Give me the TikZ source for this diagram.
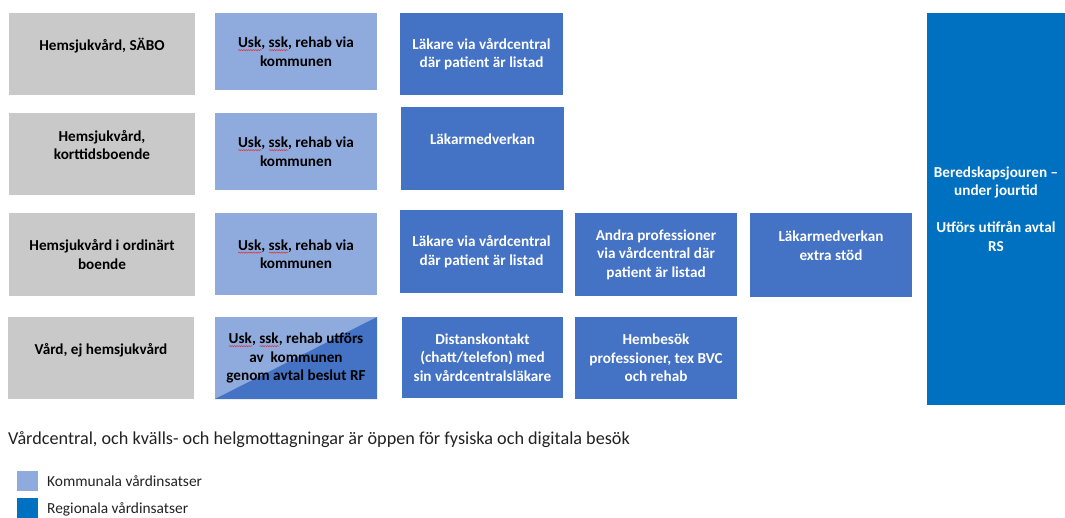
\documentclass[tikz,border=0pt]{standalone}
\usepackage{fontspec}
\setmainfont{Carlito}
\usetikzlibrary{decorations.pathmorphing}
\definecolor{boxgray}{HTML}{C9C9C9}
\definecolor{kommblue}{HTML}{8FAADC}
\definecolor{medblue}{HTML}{4472C4}
\definecolor{regblue}{HTML}{0070C0}
\definecolor{spellred}{HTML}{E03030}
\definecolor{notetext}{HTML}{222222}
\newcommand{\spellmark}[1]{\setbox0\hbox{#1}\rlap{\tikz[baseline=0pt]\draw[spellred,line width=0.5pt,decorate,decoration={snake,amplitude=0.55pt,segment length=2.4pt}] (0pt,-2.6pt) -- (\the\wd0,-2.6pt);}\box0}
\tikzset{
  cell/.style={inner sep=2pt, outer sep=0pt, align=center, font=\bfseries\fontsize{15.2}{18.5}\selectfont},
  grayc/.style={cell, fill=boxgray, text=black},
  kommc/.style={cell, fill=kommblue, text=black},
  medc/.style={cell, fill=medblue, text=white},
  regc/.style={cell, fill=regblue, text=white},
  legsq/.style={inner sep=0pt, outer sep=0pt, minimum width=21pt, minimum height=20pt},
  legtext/.style={anchor=west, inner sep=0pt, font=\fontsize{15.4}{18}\selectfont, text=notetext},
}
\begin{document}
\begin{tikzpicture}[x=1pt,y=-1pt]
\useasboundingbox (0,0) rectangle (1065,518);
% column 1
\node[grayc, minimum width=186pt, minimum height=82pt] (g1) at (102,54) {Hemsjukvård, SÄBO\\~};
\node[grayc, minimum width=186pt, minimum height=82pt] (g2) at (102,154) {Hemsjukvård,\\korttidsboende\\~};
\node[grayc, minimum width=186pt, minimum height=83pt] (g3) at (102,254.5) {Hemsjukvård i ordinärt\\boende};
\node[grayc, minimum width=186pt, minimum height=82pt] (g4) at (101,358) {Vård, ej hemsjukvård\\~};
% column 2
\node[kommc, minimum width=162pt, minimum height=77pt] (k1) at (296,51.5) {\spellmark{Usk}, \spellmark{ssk}, rehab via\\kommunen};
\node[kommc, minimum width=162pt, minimum height=77pt] (k2) at (296,151.5) {\spellmark{Usk}, \spellmark{ssk}, rehab via\\kommunen};
\node[kommc, minimum width=162pt, minimum height=82pt] (k3) at (296,254) {\spellmark{Usk}, \spellmark{ssk}, rehab via\\kommunen};
\node[kommc, minimum width=162pt, minimum height=82pt,
  path picture={\fill[medblue] (path picture bounding box.south west) -- (path picture bounding box.north east) -- (path picture bounding box.south east) -- cycle;}]
  (k4) at (296,358) {\spellmark{Usk}, \spellmark{ssk}, rehab utförs\\av\ \ kommunen\\genom avtal beslut RF};
% column 3
\node[medc, minimum width=163pt, minimum height=82pt] (r1) at (481.5,54) {Läkare via vårdcentral\\där patient är listad};
\node[medc, minimum width=163pt, minimum height=83pt] (r2) at (482.5,148.5) {Läkarmedverkan\\~};
\node[medc, minimum width=163pt, minimum height=83pt] (r3) at (481.5,251.5) {Läkare via vårdcentral\\där patient är listad};
\node[medc, minimum width=161pt, minimum height=81pt] (r4) at (482.5,357.5) {Distanskontakt\\(chatt/telefon) med\\sin vårdcentralsläkare};
% column 4
\node[medc, minimum width=162pt, minimum height=83pt] (a3) at (656,254.5) {Andra professioner\\via vårdcentral där\\patient är listad};
\node[medc, minimum width=162pt, minimum height=82pt] (a4) at (656,358) {Hembesök\\professioner, tex BVC\\och rehab};
% column 5
\node[medc, minimum width=162pt, minimum height=84pt] (e3) at (831,255) {Läkarmedverkan\\extra stöd\\~};
% column 6
\node[regc, minimum width=138pt, minimum height=392pt] (jour) at (996,209) {Beredskapsjouren –\\under jourtid\\~\\Utförs utifrån avtal\\RS};
% note
\node[anchor=base west, inner sep=0pt, font=\fontsize{18.2}{21}\selectfont, text=notetext] (note) at (8,444) {Vårdcentral, och kvälls- och helgmottagningar är öppen för fysiska och digitala besök};
% legend
\node[legsq, fill=kommblue] (leg1) at (27.5,481) {};
\node[legtext] (leg1t) at (47,481) {Kommunala vårdinsatser};
\node[legsq, fill=regblue] (leg2) at (27.5,508) {};
\node[legtext] (leg2t) at (47,509) {Regionala vårdinsatser};
\end{tikzpicture}
\end{document}
